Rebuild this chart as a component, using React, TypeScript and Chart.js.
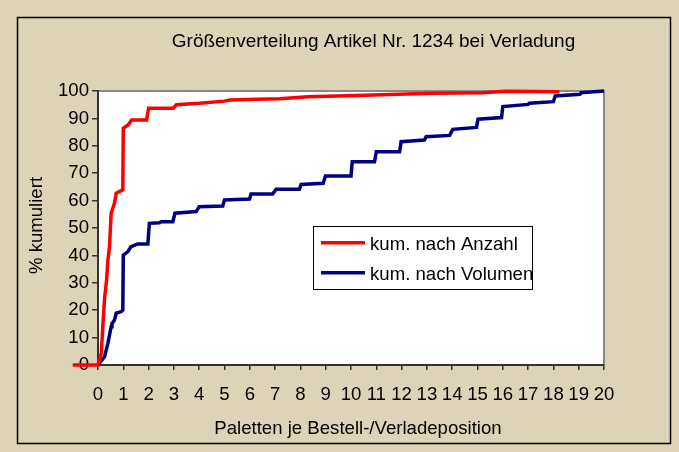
import React, { useEffect, useRef } from "react";
import { Chart, registerables } from "chart.js";

Chart.register(...registerables);

const titleText = "Größenverteilung Artikel Nr. 1234 bei Verladung";
const xTitle = "Paletten je Bestell-/Verladeposition";
const yTitle = "% kumuliert";
const seriesNames = ["kum. nach Anzahl", "kum. nach Volumen"];

const anzahlX = [-1, 0, 0.03, 0.13, 0.19, 0.26, 0.34, 0.39, 0.45, 0.52, 0.65, 0.72, 0.98, 1.0, 1.19, 1.33, 1.92, 2.0, 2.97, 3.1, 4, 5, 5.2, 6.25, 7.17, 8.3, 10.2, 13.2, 15.2, 16.1, 18.24];
const anzahlY = [0, 0, 0, 4.3, 14, 24.4, 31, 38.3, 42.6, 55.4, 59, 62.7, 63.9, 86.4, 87.6, 89.4, 89.4, 93.7, 93.7, 95, 95.5, 96.3, 96.7, 97.0, 97.2, 97.9, 98.4, 99.2, 99.4, 99.9, 99.7];

const volumenX = [0, 0.26, 0.39, 0.52, 0.55, 0.65, 0.72, 0.92, 0.98, 1.0, 1.18, 1.31, 1.57, 1.97, 2.03, 2.43, 2.5, 2.96, 3.04, 3.88, 4.0, 4.93, 5.0, 5.99, 6.05, 6.9, 7.04, 7.96, 8.03, 8.9, 8.99, 10.0, 10.05, 10.93, 11.0, 11.92, 11.98, 12.9, 12.97, 13.9, 14.02, 14.96, 15.02, 15.95, 16.0, 17.0, 17.05, 18.0, 18.07, 19.05, 19.1, 20];
const volumenY = [0, 3, 7.9, 14, 15, 16.4, 18.9, 19.5, 20, 40.1, 41.4, 43.2, 44.2, 44.2, 51.7, 51.9, 52.3, 52.3, 55.4, 56, 57.8, 58, 60.2, 60.6, 62.4, 62.4, 64.1, 64.1, 65.9, 66.3, 69.0, 69.0, 74.2, 74.2, 77.8, 77.8, 81.5, 82.1, 83.3, 83.8, 86, 86.7, 89.7, 90.3, 94.3, 95.1, 95.5, 96.1, 98.2, 98.8, 99.4, 100];

const xMin = 0, xMax = 20, xStep = 1;
const yMin = 0, yMax = 100, yStep = 10;

const FONT = "'Liberation Sans', Arial, sans-serif";
const BG = "#DDD3B7";
const RED = "#FF0000";
const BLUE = "#000080";

function toPoints(xs: number[], ys: number[]) {
  return xs.map((x, i) => ({ x, y: ys[i] }));
}

const decorPlugin = {
  id: "decor",
  beforeDraw(chart: any) {
    const { ctx, chartArea: a, width, height } = chart;
    ctx.save();
    ctx.fillStyle = BG;
    ctx.fillRect(0, 0, width, height);
    ctx.strokeStyle = "#000";
    ctx.lineWidth = 1.5;
    ctx.strokeRect(17.5, 17.5, 653, 426);
    ctx.fillStyle = "#fff";
    ctx.fillRect(a.left, a.top, a.right - a.left, a.bottom - a.top);
    ctx.strokeStyle = "#8a8a8a";
    ctx.lineWidth = 2;
    ctx.beginPath();
    ctx.moveTo(a.left, a.top);
    ctx.lineTo(a.right, a.top);
    ctx.lineTo(a.right, a.bottom);
    ctx.stroke();
    // titles
    ctx.fillStyle = "#000";
    ctx.textAlign = "center";
    ctx.textBaseline = "alphabetic";
    ctx.font = `19px ${FONT}`;
    ctx.fillText(titleText, 373.5, 46.5);
    ctx.font = `18.6px ${FONT}`;
    ctx.fillText(xTitle, 358, 433.5);
    ctx.save();
    ctx.translate(41.5, 225.5);
    ctx.rotate(-Math.PI / 2);
    ctx.fillText(yTitle, 0, 0);
    ctx.restore();
    ctx.restore();
  },
  afterDraw(chart: any) {
    const { ctx } = chart;
    ctx.save();
    ctx.fillStyle = "#fff";
    ctx.fillRect(313, 226, 219, 63);
    ctx.strokeStyle = "#000";
    ctx.lineWidth = 1;
    ctx.strokeRect(313.5, 226.5, 219, 63);
    const rows = [
      { c: RED, y: 242.7, base: 249.5 },
      { c: BLUE, y: 272.7, base: 279.5 },
    ];
    rows.forEach((r, i) => {
      ctx.strokeStyle = r.c;
      ctx.lineWidth = 3.5;
      ctx.beginPath();
      ctx.moveTo(321, r.y);
      ctx.lineTo(365, r.y);
      ctx.stroke();
      ctx.fillStyle = "#000";
      ctx.font = `18.6px ${FONT}`;
      ctx.textAlign = "left";
      ctx.textBaseline = "alphabetic";
      ctx.fillText(seriesNames[i], 370, r.base);
    });
    ctx.restore();
  },
};

export default function App() {
  const ref = useRef<HTMLCanvasElement | null>(null);
  useEffect(() => {
    document.body.style.margin = "0";
    const canvas = ref.current!;
    const chart = new Chart(canvas, {
      type: "scatter",
      data: {
        datasets: [
          {
            label: seriesNames[0],
            data: toPoints(anzahlX, anzahlY),
            showLine: true,
            borderColor: RED,
            backgroundColor: RED,
            borderWidth: 3.5,
            pointRadius: 0,
            tension: 0,
            clip: false as any,
          },
          {
            label: seriesNames[1],
            data: toPoints(volumenX, volumenY),
            showLine: true,
            borderColor: BLUE,
            backgroundColor: BLUE,
            borderWidth: 3.5,
            pointRadius: 0,
            tension: 0,
            clip: false as any,
          },
        ],
      },
      options: {
        responsive: false,
        animation: false,
        layout: { padding: { left: 0, top: 91, right: 75, bottom: 0 } },
        plugins: { legend: { display: false }, tooltip: { enabled: false }, title: { display: false } },
        scales: {
          x: {
            type: "linear",
            min: xMin,
            max: xMax,
            afterFit: (s: any) => { s.height = 87; },
            ticks: { stepSize: xStep, color: "#000", font: { family: FONT, size: 18.6 }, padding: 14, maxRotation: 0, autoSkip: false },
            grid: { drawOnChartArea: false, drawTicks: true, tickLength: 5, color: "#333", lineWidth: 1.5 },
            border: { color: "#333", width: 2 },
          },
          y: {
            type: "linear",
            min: yMin,
            max: yMax,
            afterFit: (s: any) => { s.width = 98; },
            ticks: { stepSize: yStep, color: "#000", font: { family: FONT, size: 18.6 }, padding: 3 },
            grid: { drawOnChartArea: false, drawTicks: true, tickLength: 6, color: "#333", lineWidth: 1.5 },
            border: { color: "#333", width: 2 },
          },
        },
      },
      plugins: [decorPlugin],
    });
    return () => chart.destroy();
  }, []);
  return (
    <div style={{ position: "fixed", left: 0, top: 0, width: 679, height: 452 }}>
      <canvas ref={ref} width={679} height={452} style={{ width: 679, height: 452, display: "block" }} />
    </div>
  );
}
